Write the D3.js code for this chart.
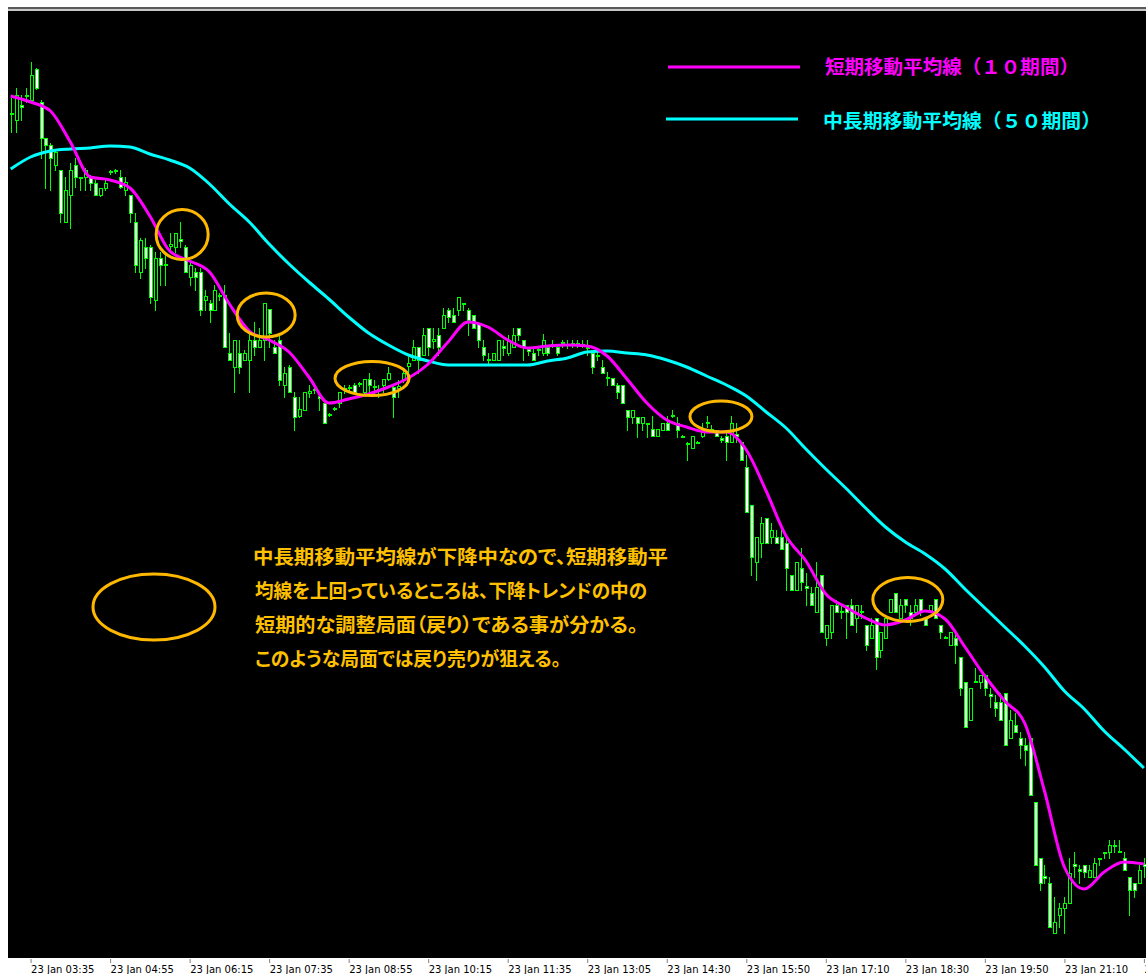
<!DOCTYPE html>
<html>
<head>
<meta charset="utf-8">
<script src="https://cdn.jsdelivr.net/npm/d3@7"></script>
<style>
html, body { margin: 0; padding: 0; background: #fff; }
svg { display: block; }
</style>
</head>
<body>
<svg id="chart" width="1146" height="974"></svg>
<script>
// M5 candles, prices in points above 89.000 (1 point = 0.001)
const opens = [
  887, 880, 895, 904, 900, 931, 898, 862, 855, 835,
  830, 778, 805, 835, 823, 823, 823, 817, 805, 812,
  828, 829, 823, 810, 805, 778, 728, 753, 753, 700,
  742, 735, 754, 753, 761, 753, 723, 728, 728, 700,
  697, 690, 705, 705, 647, 633, 647, 640, 640, 660,
  653, 660, 691, 653, 660, 615, 633, 603, 584, 590,
  607, 611, 604, 597, 585, 591, 597, 611, 613, 615,
  616, 608, 621, 614, 611, 615, 621, 613, 612, 620,
  634, 640, 653, 645, 672, 659, 665, 672, 690, 685,
  690, 697, 690, 685, 677, 653, 641, 640, 640, 654,
  647, 653, 672, 660, 651, 647, 651, 647, 653, 656,
  653, 658, 656, 656, 657, 655, 653, 647, 645, 633,
  623, 622, 615, 615, 590, 583, 583, 577, 577, 571,
  564, 570, 577, 585, 577, 564, 557, 552, 558, 564,
  578, 571, 570, 562, 564, 558, 566, 558, 533, 495,
  438, 457, 482, 463, 463, 463, 457, 425, 410, 432,
  414, 407, 388, 425, 362, 368, 395, 389, 395, 395,
  382, 389, 375, 362, 382, 350, 362, 388, 407, 382,
  401, 388, 388, 401, 382, 388, 401, 375, 363, 355,
  362, 343, 318, 280, 319, 318, 325, 306, 298, 298,
  307, 262, 275, 262, 255, 262, 198, 142, 124, 117,
  67, 85, 92, 97, 136, 131, 135, 123, 123, 141,
  147, 148, 154, 149, 142, 123, 117, 117, 136
];
const closes = [
  886, 905, 893, 905, 925, 912, 862, 855, 842, 848,
  787, 810, 830, 823, 822, 830, 817, 805, 812, 817,
  829, 830, 813, 818, 787, 735, 760, 742, 703, 742,
  735, 736, 756, 767, 759, 728, 735, 723, 690, 704,
  690, 710, 704, 653, 640, 660, 633, 647, 660, 653,
  660, 697, 667, 647, 620, 627, 608, 583, 591, 608,
  609, 610, 602, 577, 586, 592, 608, 612, 612, 608,
  617, 621, 615, 613, 610, 621, 627, 603, 614, 627,
  637, 653, 640, 665, 653, 661, 653, 685, 683, 678,
  703, 696, 680, 672, 660, 645, 640, 647, 660, 652,
  660, 665, 665, 653, 649, 640, 650, 660, 647, 655,
  647, 657, 655, 657, 655, 656, 652, 633, 644, 627,
  622, 615, 608, 597, 583, 590, 577, 583, 576, 564,
  571, 577, 570, 584, 570, 563, 556, 564, 557, 570,
  577, 570, 564, 560, 558, 577, 564, 540, 488, 443,
  463, 477, 457, 470, 457, 451, 432, 410, 438, 418,
  412, 395, 413, 368, 375, 395, 388, 388, 388, 375,
  395, 388, 355, 375, 343, 368, 382, 401, 388, 395,
  395, 382, 395, 388, 375, 395, 382, 368, 362, 368,
  355, 312, 273, 312, 318, 325, 312, 304, 292, 280,
  255, 280, 268, 255, 250, 205, 135, 117, 122, 73,
  78, 92, 97, 127, 134, 129, 128, 130, 137, 142,
  148, 155, 155, 148, 130, 110, 110, 130, 134
];
const highs = [
  902, 912, 905, 912, 938, 932, 900, 862, 857, 850,
  830, 823, 837, 842, 823, 832, 825, 820, 812, 820,
  830, 831, 830, 823, 805, 787, 762, 762, 755, 748,
  748, 747, 767, 767, 778, 755, 738, 732, 732, 710,
  700, 715, 707, 715, 667, 660, 660, 650, 667, 678,
  672, 697, 691, 660, 665, 633, 635, 608, 603, 608,
  615, 615, 607, 597, 587, 593, 608, 615, 615, 617,
  618, 621, 627, 620, 615, 621, 633, 615, 620, 630,
  643, 660, 653, 672, 672, 672, 672, 692, 692, 692,
  703, 697, 692, 685, 678, 660, 647, 647, 660, 660,
  665, 672, 672, 660, 653, 653, 653, 666, 655, 660,
  655, 660, 660, 660, 660, 660, 660, 647, 648, 640,
  628, 622, 617, 615, 590, 590, 583, 583, 577, 584,
  571, 577, 584, 590, 583, 565, 558, 564, 559, 577,
  584, 575, 570, 564, 570, 584, 577, 558, 545, 495,
  463, 483, 482, 477, 470, 470, 463, 425, 438, 452,
  427, 413, 438, 425, 375, 395, 400, 395, 395, 401,
  395, 395, 375, 382, 382, 368, 382, 401, 407, 401,
  401, 395, 401, 401, 382, 395, 401, 375, 364, 368,
  368, 343, 318, 312, 332, 325, 325, 312, 305, 307,
  307, 290, 287, 268, 262, 262, 198, 142, 135, 123,
  103, 97, 103, 142, 148, 135, 135, 135, 142, 142,
  148, 160, 160, 160, 148, 123, 117, 135, 142
];
const lows = [
  868, 868, 880, 898, 898, 911, 842, 812, 810, 830,
  778, 778, 772, 813, 810, 810, 810, 805, 804, 810,
  826, 827, 812, 805, 778, 728, 722, 732, 697, 690,
  715, 715, 748, 748, 753, 728, 715, 710, 685, 690,
  678, 690, 700, 653, 640, 608, 627, 640, 608, 645,
  653, 640, 653, 647, 615, 603, 608, 570, 583, 590,
  603, 607, 590, 577, 584, 590, 593, 607, 610, 607,
  614, 607, 608, 607, 603, 608, 620, 583, 603, 618,
  627, 640, 627, 645, 645, 652, 645, 672, 678, 678,
  685, 690, 665, 672, 653, 640, 637, 640, 640, 645,
  645, 653, 660, 640, 645, 640, 645, 645, 645, 653,
  645, 653, 652, 653, 653, 653, 645, 627, 640, 627,
  615, 615, 602, 597, 570, 577, 563, 570, 563, 564,
  564, 570, 570, 583, 563, 563, 540, 552, 557, 563,
  573, 568, 564, 558, 540, 558, 558, 540, 488, 425,
  420, 443, 457, 457, 457, 451, 410, 410, 410, 410,
  395, 395, 388, 368, 355, 362, 388, 382, 362, 375,
  368, 382, 350, 362, 331, 343, 362, 388, 388, 382,
  388, 375, 388, 385, 375, 388, 382, 362, 362, 355,
  337, 305, 273, 280, 318, 312, 305, 293, 284, 280,
  255, 262, 268, 242, 235, 205, 135, 110, 117, 73,
  67, 73, 67, 97, 123, 117, 123, 123, 123, 135,
  142, 142, 148, 148, 130, 85, 103, 117, 123
];

// moving averages every 4 bars
const maBars = [
  0, 4, 8, 12, 16, 20, 24, 28, 32, 36, 40, 44, 48, 52, 56, 60, 64, 68, 72, 76,
  80, 84, 88, 92, 96, 100, 104, 108, 112, 116, 120, 124, 128, 132, 136, 140, 144, 148, 152, 156,
  160, 164, 168, 172, 176, 180, 184, 188, 192, 196, 200, 204, 208, 212, 216, 220, 224, 228
];
const ma10 = [
  904, 898, 889, 858, 823, 820, 812, 784, 749, 739, 728, 696, 669, 660, 648, 623, 597, 601, 606, 613,
  622, 636, 658, 678, 673, 660, 652, 654, 655, 654, 644, 621, 597, 580, 573, 568, 568, 550, 509, 464,
  439, 406, 393, 382, 375, 380, 389, 381, 353, 324, 299, 277, 209, 133, 111, 128, 138, 136
];
const ma50 = [
  831, 843, 849, 851, 852, 854, 853, 846, 840, 832, 816, 796, 778, 756, 736, 718, 701, 683, 667, 655,
  645, 639, 635, 635, 635, 635, 635, 639, 642, 648, 649, 647, 645, 640, 633, 624, 615, 604, 588, 572,
  551, 531, 512, 492, 473, 458, 446, 431, 411, 392, 373, 354, 333, 309, 291, 269, 251, 232
];

// time axis
const tickBars = [-16, 4, 20, 36, 52, 68, 84, 100, 116, 132, 148, 164, 180, 196, 212, 228];
const tickLabels = [
  "23 Jan 02:15", "23 Jan 03:35", "23 Jan 04:55", "23 Jan 06:15", "23 Jan 07:35",
  "23 Jan 08:55", "23 Jan 10:15", "23 Jan 11:35", "23 Jan 13:05", "23 Jan 14:30",
  "23 Jan 15:50", "23 Jan 17:10", "23 Jan 18:30", "23 Jan 19:50", "23 Jan 21:10",
  "23 Jan 22:30"
];

// pullback zones that are circled (bar index / price at centre)
const zoneBars = [34.5, 51.4, 72.7, 142.9, 180.5];
const zonePrices = [765.5, 685, 621.5, 583.5, 400.5];

const legendNames = ["短期移動平均線（１０期間）", "中長期移動平均線（５０期間）"];
const noteLines = [
  "中長期移動平均線が下降中なので、短期移動平",
  "均線を上回っているところは、下降トレンドの中の",
  "短期的な調整局面（戻り）である事が分かる。",
  "このような局面では戻り売りが狙える。"
];

const W = 1146, H = 974;
const frame = { left: 8, top: 11, right: 1146, bottom: 958 };
const svg = d3.select("#chart");

svg.append("rect").attr("width", W).attr("height", H).attr("fill", "#ffffff");
svg.append("rect").attr("x", frame.left).attr("y", 7).attr("width", W - frame.left).attr("height", 2).attr("fill", "#5a5a5a");
svg.append("rect").attr("x", frame.left).attr("y", 9).attr("width", W - frame.left).attr("height", 2).attr("fill", "#c8c8c8");
svg.append("rect")
  .attr("x", frame.left).attr("y", frame.top)
  .attr("width", frame.right - frame.left).attr("height", frame.bottom - frame.top)
  .attr("fill", "#000000");

svg.append("defs").append("clipPath").attr("id", "plotClip")
  .append("rect")
  .attr("x", frame.left).attr("y", frame.top)
  .attr("width", frame.right - frame.left).attr("height", frame.bottom - frame.top);

const xScale = d3.scaleLinear().domain([0, 228]).range([10.7, 1143.9]);
const yScale = d3.scaleLinear().domain([42, 989]).range([frame.bottom, frame.top]);

const bars = opens.map((o, i) => ({ i: i, o: o, h: highs[i], l: lows[i], c: closes[i] }));
const col = d => Math.round(xScale(d.i));
const bodyTop = d => Math.round(yScale(Math.max(d.o, d.c)));
const bodyBot = d => Math.max(bodyTop(d) + 1, Math.round(yScale(Math.min(d.o, d.c))));

const plot = svg.append("g").attr("clip-path", "url(#plotClip)");
const candles = plot.append("g").attr("shape-rendering", "crispEdges");

candles.selectAll(".wick").data(bars).join("rect")
  .attr("class", "wick")
  .attr("x", d => col(d))
  .attr("y", d => Math.round(yScale(d.h)))
  .attr("width", 1)
  .attr("height", d => Math.round(yScale(d.l)) - Math.round(yScale(d.h)) + 1)
  .attr("fill", "#00ff00");

// body: lime frame 4px wide, hollow centre (white = falling, black = rising)
candles.selectAll(".body").data(bars).join("rect")
  .attr("class", "body")
  .attr("x", d => col(d) - 1)
  .attr("y", d => bodyTop(d))
  .attr("width", 4)
  .attr("height", d => bodyBot(d) - bodyTop(d) + 1)
  .attr("fill", "#00ff00");

candles.selectAll(".inner").data(bars.filter(d => bodyBot(d) - bodyTop(d) >= 2)).join("rect")
  .attr("class", "inner")
  .attr("x", d => col(d))
  .attr("y", d => bodyTop(d) + 1)
  .attr("width", 2)
  .attr("height", d => bodyBot(d) - bodyTop(d) - 1)
  .attr("fill", d => d.c < d.o ? "#ffffff" : "#000000");

const maLine = d3.line()
  .x(d => xScale(d[0]))
  .y(d => yScale(d[1]))
  .curve(d3.curveMonotoneX);

plot.append("path")
  .datum(d3.zip(maBars, ma50))
  .attr("d", maLine)
  .attr("fill", "none")
  .attr("stroke", "#00ffff")
  .attr("stroke-width", 3);

plot.append("path")
  .datum(d3.zip(maBars, ma10))
  .attr("d", maLine)
  .attr("fill", "none")
  .attr("stroke", "#ff00ff")
  .attr("stroke-width", 3);

// circled pullbacks
const zoneRadii = [[26, 25], [29, 22], [37, 17], [31, 15.5], [35, 22]];
plot.selectAll(".zone").data(zoneBars).join("ellipse")
  .attr("class", "zone")
  .attr("cx", d => xScale(d))
  .attr("cy", (d, i) => yScale(zonePrices[i]))
  .attr("rx", (d, i) => zoneRadii[i][0])
  .attr("ry", (d, i) => zoneRadii[i][1])
  .attr("fill", "none")
  .attr("stroke", "#ffb800")
  .attr("stroke-width", 3);

// legend
const legendColors = ["#ff00ff", "#00ffff"];
const legendRows = [
  { x1: 668, x2: 800, y: 67, tx: 825, ty: 74, len: 254 },
  { x1: 666, x2: 798, y: 119, tx: 823, ty: 128, len: 278 }
];
const legend = svg.append("g");
legend.selectAll("line").data(legendRows).join("line")
  .attr("x1", d => d.x1).attr("x2", d => d.x2)
  .attr("y1", d => d.y).attr("y2", d => d.y)
  .attr("stroke", (d, i) => legendColors[i])
  .attr("stroke-width", 3);
legend.selectAll("text").data(legendRows).join("text")
  .attr("x", d => d.tx).attr("y", d => d.ty)
  .attr("textLength", d => d.len)
  .attr("lengthAdjust", "spacingAndGlyphs")
  .attr("fill", (d, i) => legendColors[i])
  .attr("font-family", "'Noto Sans CJK JP', sans-serif")
  .attr("font-weight", "bold")
  .attr("font-size", 19)
  .text((d, i) => legendNames[i]);

// explanation
svg.append("ellipse")
  .attr("cx", 154).attr("cy", 607).attr("rx", 61).attr("ry", 33)
  .attr("fill", "none").attr("stroke", "#ffb800").attr("stroke-width", 3);

const noteLen = [415, 392, 383, 306];
svg.append("g").selectAll("text").data(noteLines).join("text")
  .attr("x", (d, i) => i === 0 ? 253 : 255)
  .attr("y", (d, i) => 564 + i * 34)
  .attr("textLength", (d, i) => noteLen[i])
  .attr("lengthAdjust", "spacingAndGlyphs")
  .attr("fill", "#ffc000")
  .attr("font-family", "'Noto Sans CJK JP', sans-serif")
  .attr("font-weight", "bold")
  .attr("font-size", 19)
  .style("font-feature-settings", "'palt'")
  .text(d => d);

// time axis
const xAxis = d3.axisBottom(xScale)
  .tickValues(tickBars)
  .tickFormat((d, i) => tickLabels[i])
  .tickSize(4)
  .tickSizeOuter(0);

const axisG = svg.append("g")
  .attr("transform", "translate(0," + (frame.bottom + 1) + ")")
  .call(xAxis);
axisG.select(".domain").remove();
axisG.attr("font-family", "'DejaVu Sans', sans-serif").attr("font-size", 10).attr("color", "#000");
axisG.selectAll(".tick line").attr("stroke", "#808080");
axisG.selectAll(".tick text").attr("text-anchor", "start").attr("x", 0);
</script>
</body>
</html>
